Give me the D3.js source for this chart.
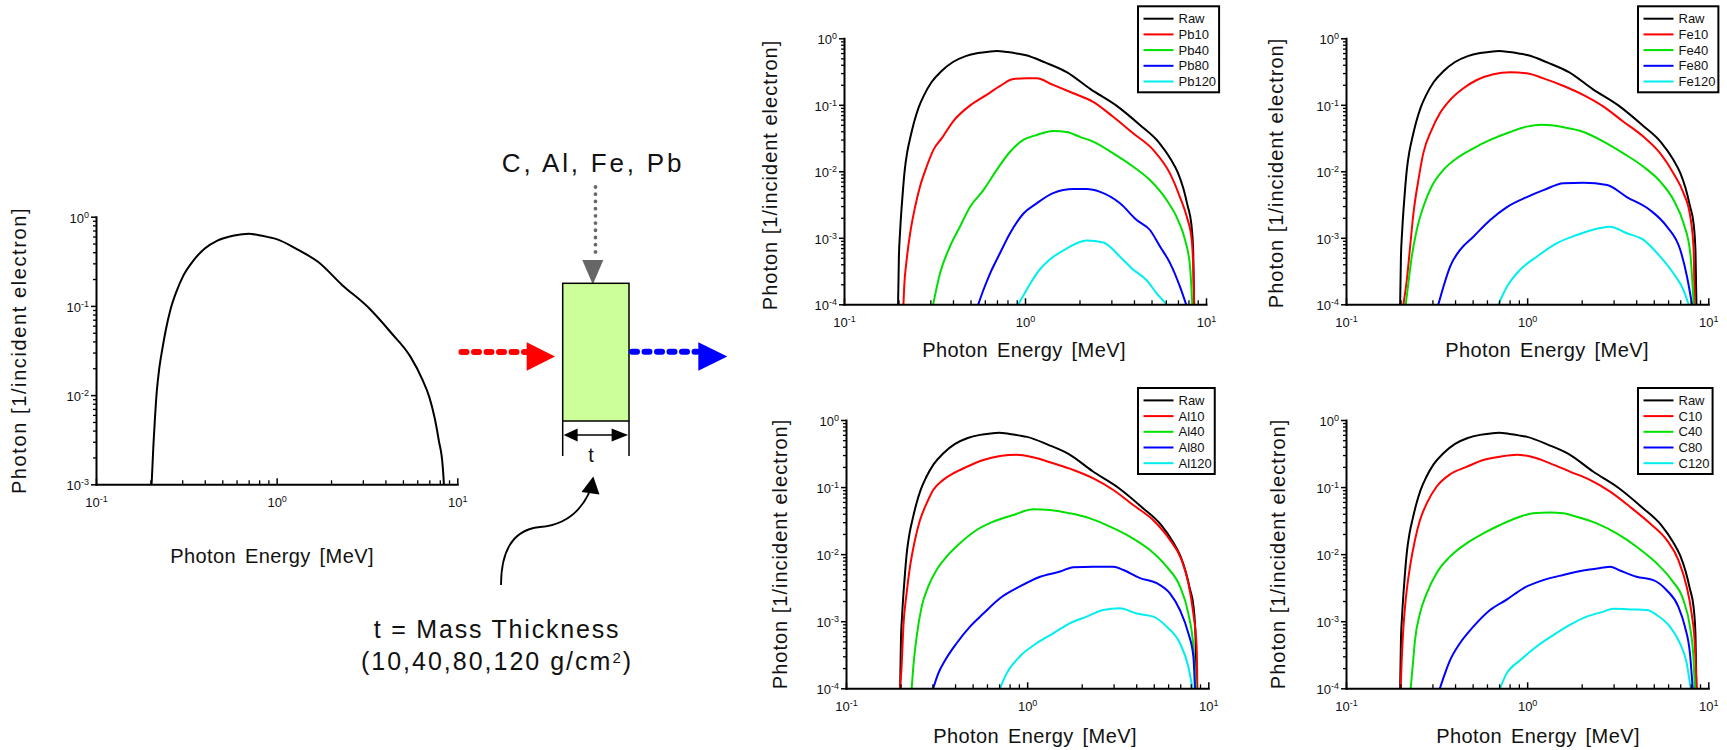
<!DOCTYPE html>
<html>
<head>
<meta charset="utf-8">
<script src="https://cdn.jsdelivr.net/npm/d3@7"></script>
<style>
  body { margin: 0; background: #fff; }
  svg { display: block; font-family: "Liberation Sans", Arial, sans-serif; }
</style>
</head>
<body>
<svg id="fig" width="1727" height="750"></svg>
<script>
// ---- Photon spectra: [energy MeV, photons per incident electron] ----
const raw = [[0.199,1e-4],[0.201,5e-4],[0.204,1.2e-3],[0.208,2.8e-3],[0.212,5.5e-3],[0.217,0.011],[0.224,0.02],[0.233,0.033],[0.244,0.055],[0.258,0.09],[0.277,0.14],[0.305,0.22],[0.345,0.32],[0.40,0.44],[0.47,0.54],[0.55,0.60],[0.63,0.63],[0.70,0.645],[0.80,0.62],[0.90,0.59],[1.0,0.56],[1.3,0.43],[1.7,0.31],[2.3,0.172],[3.2,0.097],[4.3,0.05],[5.5,0.027],[6.4,0.015],[7.0,0.0095],[7.5,0.0055],[7.9,0.0031],[8.3,0.0016],[8.5,6e-4],[8.6,1e-4]];

const pb10 = [[0.213,1e-4],[0.215,1.8e-4],[0.222,4.7e-4],[0.232,1.17e-3],[0.247,2.9e-3],[0.263,5.9e-3],[0.286,0.0117],[0.312,0.021],[0.347,0.0315],[0.40,0.056],[0.50,0.099],[0.61,0.14],[0.73,0.192],[0.86,0.244],[1.02,0.25],[1.16,0.25],[1.43,0.199],[1.85,0.149],[2.38,0.111],[3.07,0.066],[3.97,0.037],[5.11,0.021],[6.32,0.0093],[7.18,0.0041],[7.82,0.0021],[8.34,9.3e-4],[8.5,3.7e-4],[8.6,1e-4]];
const pb40 = [[0.311,1e-4],[0.339,2.9e-4],[0.385,7.4e-4],[0.437,1.47e-3],[0.497,2.9e-3],[0.589,5.2e-3],[0.698,0.0105],[0.827,0.0197],[0.978,0.0296],[1.16,0.0352],[1.43,0.0403],[1.70,0.039],[2.01,0.033],[2.38,0.0279],[3.07,0.0186],[3.97,0.0117],[4.9,0.0074],[6.06,0.0037],[7.03,0.0018],[7.66,9.3e-4],[8.16,3.7e-4],[8.4,1e-4]];
const pb80 = [[0.552,1e-4],[0.589,1.64e-4],[0.641,2.9e-4],[0.728,5.9e-4],[0.827,1.17e-3],[0.978,2.3e-3],[1.16,3.3e-3],[1.43,4.7e-3],[1.85,5.4e-3],[2.19,5.4e-3],[2.6,4.9e-3],[3.35,3.3e-3],[4.14,1.85e-3],[4.9,1.31e-3],[5.57,7.4e-4],[6.32,4.2e-4],[7.18,1.84e-4],[7.76,1e-4]];
const pb120 = [[0.918,1e-4],[1.02,1.64e-4],[1.16,2.9e-4],[1.37,4.7e-4],[1.70,6.9e-4],[2.19,9.1e-4],[2.71,8.5e-4],[3.35,5.2e-4],[3.97,3.3e-4],[4.7,2.3e-4],[5.34,1.46e-4],[6.06,1e-4]];

const fe10 = [[0.2075,1e-4],[0.2165,2.3e-4],[0.226,7.4e-4],[0.2355,2.3e-3],[0.251,7.4e-3],[0.267,0.0186],[0.297,0.042],[0.33,0.0745],[0.3755,0.118],[0.445,0.177],[0.527,0.236],[0.651,0.288],[0.806,0.308],[0.996,0.298],[1.23,0.25],[1.59,0.192],[2.05,0.14],[2.64,0.094],[3.4,0.0557],[4.39,0.033],[5.43,0.0186],[6.43,0.0093],[7.3,4.7e-3],[7.95,2.1e-3],[8.3,6.6e-4],[8.4,1e-4]];
const fe40 = [[0.2137,1e-4],[0.221,2.1e-4],[0.2307,5.2e-4],[0.2456,1.3e-3],[0.267,2.9e-3],[0.297,5.9e-3],[0.345,0.0105],[0.409,0.0157],[0.505,0.0222],[0.625,0.0296],[0.806,0.039],[0.996,0.047],[1.205,0.05],[1.59,0.046],[2.05,0.039],[2.64,0.028],[3.4,0.0186],[4.39,0.0117],[5.43,0.007],[6.43,3.7e-3],[7.3,1.65e-3],[7.95,5.9e-4],[8.3,1e-4]];
const fe80 = [[0.3236,1e-4],[0.345,1.84e-4],[0.3755,3.7e-4],[0.4266,6.6e-4],[0.505,1.04e-3],[0.625,1.85e-3],[0.773,2.9e-3],[0.996,4.1e-3],[1.23,5.2e-3],[1.59,6.6e-3],[2.05,6.7e-3],[2.76,6.2e-3],[3.55,4.1e-3],[4.78,2.6e-3],[5.91,1.47e-3],[7.0,6.6e-4],[7.63,2.6e-4],[8.13,1e-4]];
const fe120 = [[0.694,1e-4],[0.773,1.84e-4],[0.914,3.3e-4],[1.13,5.2e-4],[1.46,8.3e-4],[1.88,1.1e-3],[2.53,1.4e-3],[2.87,1.47e-3],[3.55,1.17e-3],[4.39,9.3e-4],[5.43,5.2e-4],[6.43,2.9e-4],[7.3,1.64e-4],[7.78,1e-4]];

const al10 = [[0.1986,1e-4],[0.2027,2.1e-4],[0.2073,8.3e-4],[0.216,2.6e-3],[0.2256,6.5e-3],[0.2403,0.0163],[0.256,0.032],[0.2787,0.057],[0.303,0.0905],[0.344,0.128],[0.391,0.16],[0.4635,0.2],[0.573,0.253],[0.708,0.29],[0.875,0.304],[1.08,0.278],[1.39,0.226],[1.8,0.18],[2.32,0.135],[2.99,0.0905],[3.85,0.054],[4.97,0.032],[6.14,0.0163],[7.12,8.2e-3],[7.76,3.7e-3],[8.27,1.3e-3],[8.62,4.2e-4],[8.7,1e-4]];
const al40 = [[0.2304,1e-4],[0.2353,2.1e-4],[0.2455,5.9e-4],[0.2617,1.65e-3],[0.2847,3.3e-3],[0.316,5.8e-3],[0.3594,9.2e-3],[0.4256,0.0145],[0.526,0.0229],[0.65,0.0305],[0.839,0.0384],[1.08,0.0466],[1.34,0.0455],[1.72,0.0406],[2.22,0.0342],[2.87,0.0257],[3.69,0.0182],[4.76,0.0115],[5.89,6.5e-3],[6.97,3.3e-3],[7.76,1.3e-3],[8.27,4.2e-4],[8.55,1e-4]];
const al80 = [[0.303,1e-4],[0.3233,1.67e-4],[0.352,2.6e-4],[0.408,4.7e-4],[0.4836,8.3e-4],[0.573,1.3e-3],[0.708,2.2e-3],[0.913,3.3e-3],[1.178,4.6e-3],[1.52,5.5e-3],[1.8,6.4e-3],[2.32,6.5e-3],[2.99,6.5e-3],[3.4,5.8e-3],[4.2,4.4e-3],[5.19,3.7e-3],[6.14,2.6e-3],[6.97,1.47e-3],[7.76,6.6e-4],[8.27,3.0e-4],[8.44,1e-4]];
const al120 = [[0.708,1e-4],[0.771,1.67e-4],[0.913,3.0e-4],[1.128,4.7e-4],[1.394,6.6e-4],[1.72,9.3e-4],[2.13,1.17e-3],[2.63,1.47e-3],[3.25,1.56e-3],[4.02,1.3e-3],[4.97,1.17e-3],[5.89,8.3e-4],[6.97,4.7e-4],[7.76,2.1e-4],[8.18,1e-4]];

const c10 = [[0.2003,1e-4],[0.2027,2.4e-4],[0.207,7.4e-4],[0.2144,2.3e-3],[0.2256,6.5e-3],[0.2403,0.0163],[0.256,0.032],[0.279,0.057],[0.316,0.101],[0.375,0.155],[0.463,0.2],[0.573,0.253],[0.708,0.284],[0.875,0.304],[1.08,0.278],[1.34,0.226],[1.72,0.17],[2.22,0.128],[2.87,0.0855],[3.69,0.051],[4.76,0.0288],[5.89,0.0163],[6.83,8.2e-3],[7.59,3.3e-3],[8.09,1.3e-3],[8.44,4.2e-4],[8.62,1e-4]];
const c40 = [[0.2275,1e-4],[0.2333,2.1e-4],[0.2403,5.2e-4],[0.256,1.3e-3],[0.279,2.6e-3],[0.316,5.2e-3],[0.375,9.2e-3],[0.463,0.0145],[0.573,0.0204],[0.708,0.0272],[0.912,0.0362],[1.08,0.0406],[1.34,0.0416],[1.58,0.0406],[1.87,0.0362],[2.42,0.0288],[3.12,0.0204],[4.02,0.0129],[5.19,7.3e-3],[6.28,4.1e-3],[7.27,2.1e-3],[7.92,8.3e-4],[8.27,3.0e-4],[8.44,1e-4]];
const c80 = [[0.33,1e-4],[0.352,1.67e-4],[0.375,2.6e-4],[0.4256,4.7e-4],[0.5045,8.3e-4],[0.624,1.47e-3],[0.771,2.1e-3],[0.953,3.1e-3],[1.228,4.1e-3],[1.58,4.9e-3],[2.04,5.7e-3],[2.63,6.3e-3],[2.87,6.5e-3],[3.25,5.7e-3],[4.02,4.6e-3],[4.97,4.1e-3],[5.89,2.9e-3],[6.83,1.65e-3],[7.43,8.3e-4],[7.92,3.3e-4],[8.2,1e-4]];
const c120 = [[0.708,1e-4],[0.771,1.67e-4],[0.912,2.6e-4],[1.128,4.2e-4],[1.394,6.2e-4],[1.72,8.8e-4],[2.13,1.17e-3],[2.63,1.39e-3],[2.99,1.54e-3],[3.69,1.5e-3],[4.57,1.47e-3],[5.19,1.24e-3],[6.14,8.3e-4],[6.97,4.7e-4],[7.59,2.4e-4],[7.99,1e-4]];

// ---- Labels and ticks ----
const thicknesses = [10, 40, 80, 120];
const seriesColors = ["#000000", "#ff0000", "#00e000", "#0000ff", "#00eeee"];
const xTickExponents = [-1, 0, 1];
const yTickExponentsSpectrum = [0, -1, -2, -3];
const yTickExponentsFiltered = [0, -1, -2, -3, -4];
const xTitle = "Photon Energy [MeV]";
const yTitle = "Photon [1/incident electron]";

// ---- Layout (pixel boxes of each plot) ----
const panels = [
  { id: "raw", x0: 96, x1: 457.3, y0: 216.7, y1: 484.3, yExp: yTickExponentsSpectrum,
    series: [raw], element: null, legendX: null,
    xLab: { cx: 272, base: 563 }, yLab: { cx: 19, cy: 350.5, ls: 1.6 } },
  { id: "pb", x0: 844, x1: 1206, y0: 38.3, y1: 304.3, yExp: yTickExponentsFiltered,
    series: [raw, pb10, pb40, pb80, pb120], element: "Pb", legendX: 1138,
    xLab: { cx: 1024, base: 356.7 }, yLab: { cx: 770, cy: 175, ls: 1.0 } },
  { id: "fe", x0: 1346, x1: 1708.3, y0: 38.3, y1: 304.3, yExp: yTickExponentsFiltered,
    series: [raw, fe10, fe40, fe80, fe120], element: "Fe", legendX: 1638,
    xLab: { cx: 1547, base: 356.7 }, yLab: { cx: 1276, cy: 173, ls: 1.0 } },
  { id: "al", x0: 846, x1: 1208.3, y0: 420, y1: 688.3, yExp: yTickExponentsFiltered,
    series: [raw, al10, al40, al80, al120], element: "Al", legendX: 1138,
    xLab: { cx: 1035, base: 742.7 }, yLab: { cx: 780, cy: 554, ls: 1.0 } },
  { id: "c", x0: 1346, x1: 1708.3, y0: 420, y1: 688.3, yExp: yTickExponentsFiltered,
    series: [raw, c10, c40, c80, c120], element: "C", legendX: 1638,
    xLab: { cx: 1538, base: 743.3 }, yLab: { cx: 1278, cy: 554, ls: 1.0 } }
];

const svg = d3.select("#fig");
const defs = svg.append("defs");

function minorTicks(expLo, expHi) {
  const out = [];
  for (let e = expLo; e < expHi; e++) for (let k = 2; k <= 9; k++) out.push(k * Math.pow(10, e));
  return out;
}

function powerLabel(sel) {
  // rewrite decade ticks as 10 with a raised exponent
  sel.each(function (d) {
    const t = d3.select(this);
    const e = Math.round(Math.log10(d));
    t.text(null).attr("fill", "#111").style("font-size", "13px")
      .attr("font-family", null);
    t.append("tspan").text("10");
    t.append("tspan").attr("dy", "-5").style("font-size", "9px").text(String(e));
  });
}

function drawPanel(p) {
  const yLo = Math.pow(10, d3.min(p.yExp));
  const x = d3.scaleLog().domain([0.1, 10]).range([p.x0, p.x1]);
  const y = d3.scaleLog().domain([yLo, 1]).range([p.y1, p.y0]);
  const g = svg.append("g");

  defs.append("clipPath").attr("id", "clip-" + p.id)
    .append("rect").attr("x", p.x0).attr("y", p.y0 - 6)
    .attr("width", p.x1 - p.x0).attr("height", p.y1 - p.y0 + 6);

  const line = d3.line().x(d => x(d[0])).y(d => y(d[1])).curve(d3.curveMonotoneX);
  const plot = g.append("g").attr("clip-path", `url(#clip-${p.id})`);
  p.series.forEach((s, i) => {
    plot.append("path").attr("d", line(s)).attr("fill", "none")
      .attr("stroke", seriesColors[i]).attr("stroke-width", 2)
      .attr("stroke-linejoin", "round");
  });

  // y axis: minor and major ticks point outward
  const yMinor = g.append("g").attr("transform", `translate(${p.x0},0)`)
    .call(d3.axisLeft(y).tickValues(minorTicks(d3.min(p.yExp), 0)).tickSize(3).tickSizeOuter(0).tickFormat(""));
  yMinor.select(".domain").remove();
  yMinor.selectAll("line").attr("stroke", "#000").attr("stroke-width", 1.3);

  const yMajor = g.append("g").attr("transform", `translate(${p.x0},0)`)
    .call(d3.axisLeft(y).tickValues(p.yExp.map(e => Math.pow(10, e))).tickSize(5).tickSizeOuter(0).tickPadding(2));
  yMajor.selectAll("line").attr("stroke", "#000").attr("stroke-width", 1.5);
  yMajor.selectAll("text").attr("dy", "0.42em").call(powerLabel);

  // x axis: ticks point inward
  const xMinor = g.append("g").attr("transform", `translate(0,${p.y1})`)
    .call(d3.axisBottom(x).tickValues(minorTicks(-1, 1)).tickSize(-4).tickSizeOuter(0).tickFormat(""));
  xMinor.select(".domain").remove();
  xMinor.selectAll("line").attr("stroke", "#000").attr("stroke-width", 1.3);

  const xMajor = g.append("g").attr("transform", `translate(0,${p.y1})`)
    .call(d3.axisBottom(x).tickValues(xTickExponents.map(e => Math.pow(10, e))).tickSize(-6).tickSizeOuter(0).tickPadding(13));
  xMajor.selectAll("line").attr("stroke", "#000").attr("stroke-width", 1.5);
  xMajor.selectAll("text").call(powerLabel);

  [yMajor, xMajor].forEach(a => a.select(".domain")
    .attr("stroke", "#000").attr("stroke-width", 2).attr("stroke-linecap", "square"));

  // titles
  g.append("text").attr("x", p.xLab.cx).attr("y", p.xLab.base)
    .attr("text-anchor", "middle").attr("fill", "#111")
    .style("font-size", "20px").style("letter-spacing", "0.4px").style("word-spacing", "3px")
    .text(xTitle);
  g.append("text").attr("transform", `translate(${p.yLab.cx + 7},${p.yLab.cy}) rotate(-90)`)
    .attr("text-anchor", "middle").attr("fill", "#111")
    .style("font-size", "20px").style("letter-spacing", p.yLab.ls + "px")
    .text(yTitle);

  // legend
  if (p.element) {
    const names = ["Raw"].concat(thicknesses.map(t => p.element + t));
    const lg = g.append("g").attr("transform", `translate(${p.legendX},${p.y0 - 32})`);
    const box = lg.append("rect").attr("x", 0).attr("y", 0).attr("height", 86)
      .attr("fill", "#fff").attr("stroke", "#000").attr("stroke-width", 2);
    let maxW = 0;
    names.forEach((n, i) => {
      const cy = 12.4 + i * 15.7;
      lg.append("line").attr("x1", 5.5).attr("x2", 35.5).attr("y1", cy).attr("y2", cy)
        .attr("stroke", seriesColors[i]).attr("stroke-width", 2);
      const t = lg.append("text").attr("x", 40.5).attr("y", cy + 4.6)
        .attr("fill", "#111").style("font-size", "13px").text(n);
      maxW = Math.max(maxW, t.node().getComputedTextLength());
    });
    box.attr("width", 40.5 + maxW + 3);
  }
}

panels.forEach(drawPanel);

// ---- Set-up sketch: beam through an absorber slab ----
const sk = svg.append("g");
sk.append("text").attr("x", 593).attr("y", 171.7).attr("text-anchor", "middle")
  .attr("fill", "#111").style("font-size", "26px").style("letter-spacing", "2.8px")
  .text("C, Al, Fe, Pb");
sk.append("line").attr("x1", 595.5).attr("y1", 187).attr("x2", 595.5).attr("y2", 259)
  .attr("stroke", "#6a6a6a").attr("stroke-width", 3.8).attr("stroke-linecap", "round")
  .attr("stroke-dasharray", "0.01 7.2");
sk.append("polygon").attr("points", "582.3,260 603.3,260 592.8,284.5").attr("fill", "#666");

sk.append("rect").attr("x", 562.7).attr("y", 283.3).attr("width", 66.3).attr("height", 137.7)
  .attr("fill", "#ccff99").attr("stroke", "#000").attr("stroke-width", 1.5);
sk.append("line").attr("x1", 562.7).attr("y1", 421).attr("x2", 562.7).attr("y2", 456)
  .attr("stroke", "#000").attr("stroke-width", 1.5);
sk.append("line").attr("x1", 629).attr("y1", 421).attr("x2", 629).attr("y2", 456)
  .attr("stroke", "#000").attr("stroke-width", 1.5);
sk.append("line").attr("x1", 575).attr("y1", 435).attr("x2", 615).attr("y2", 435)
  .attr("stroke", "#000").attr("stroke-width", 1.5);
sk.append("polygon").attr("points", "563.6,435 577.6,428.6 577.6,441.4").attr("fill", "#000");
sk.append("polygon").attr("points", "628.1,435 611.6,428.6 611.6,441.4").attr("fill", "#000");
sk.append("text").attr("x", 591).attr("y", 461.5).attr("text-anchor", "middle")
  .attr("fill", "#111").style("font-size", "20px").text("t");

// incoming (red) and outgoing (blue) beams
sk.append("line").attr("x1", 461.5).attr("y1", 352).attr("x2", 526).attr("y2", 352)
  .attr("stroke", "#ff0000").attr("stroke-width", 6).attr("stroke-linecap", "round")
  .attr("stroke-dasharray", "5 7.5");
sk.append("polygon").attr("points", "526.7,342.3 526.7,370.7 555,356.5").attr("fill", "#ff0000");
sk.append("line").attr("x1", 632).attr("y1", 351.7).attr("x2", 697).attr("y2", 351.7)
  .attr("stroke", "#0000ff").attr("stroke-width", 6).attr("stroke-linecap", "round")
  .attr("stroke-dasharray", "5 7.5");
sk.append("polygon").attr("points", "698.3,342.3 698.3,370.7 727.3,356.5").attr("fill", "#0000ff");

// curved pointer to the thickness mark
sk.append("path").attr("d", "M501,585 C501,555 510,530 540,527 C565,525 580,512 589,493")
  .attr("fill", "none").attr("stroke", "#000").attr("stroke-width", 1.8);
sk.append("polygon").attr("points", "593.3,476.5 581.5,492 599.5,494.5").attr("fill", "#000");

const note = sk.append("g").attr("fill", "#111");
note.append("text").attr("x", 497).attr("y", 638.3).attr("text-anchor", "middle")
  .style("font-size", "25px").style("letter-spacing", "1.8px").text("t = Mass Thickness");
const l2 = note.append("text").attr("x", 497).attr("y", 670).attr("text-anchor", "middle")
  .style("font-size", "25px").style("letter-spacing", "2px");
l2.append("tspan").text("(" + thicknesses.join(",") + " g/cm");
l2.append("tspan").attr("dy", -7).style("font-size", "15px").text("2");
l2.append("tspan").attr("dy", 7).text(")");
</script>
</body>
</html>
